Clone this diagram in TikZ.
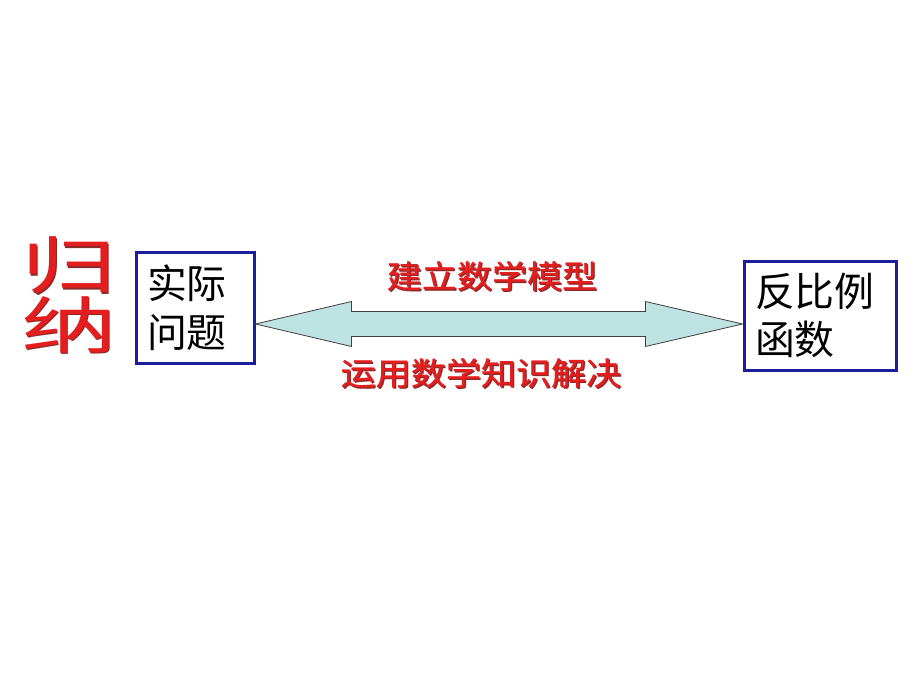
\documentclass[tikz,border=0pt]{standalone}
\usepackage{fontspec}
\usetikzlibrary{calc}
\newfontfamily\cjk{Noto Sans CJK SC}
\newfontfamily\cjkbold{Noto Sans CJK SC}[FakeBold=0.6]
\definecolor{kastenblau}{HTML}{1C1C9C}
\definecolor{rottext}{HTML}{E41E1E}
\definecolor{rotschatten}{HTML}{8A2A2A}
\definecolor{pfeilfarbe}{HTML}{BFE2E2}

\begin{document}
\begin{tikzpicture}[x=1bp, y=-1bp,
    kasten/.style={draw=kastenblau, line width=3bp, fill=white, inner xsep=11bp,
                   align=left, font=\cjk\fontsize{40}{49}\selectfont},
    rotschrift/.style={text=rottext, inner sep=0pt, font=\cjkbold\fontsize{32}{36}\selectfont, xscale=1.1},
    schatten/.style={rotschrift, text=rotschatten}]
    \useasboundingbox (0,0) rectangle (920,690);

    % links und rechts
    \node[kasten, text width=96bp, minimum height=111bp] (wenti) at (195,307.5) {实际\\问题};
    \node[kasten, text width=130bp, minimum height=109bp] (hanshu) at (820,315.5) {反比例\\函数};

    \node[schatten, align=center, font=\cjk\fontsize{62}{60}\selectfont, xscale=1.4] (guina-s) at (70.5,296.5) {归\\纳};
    \node[rotschrift, align=center, font=\cjk\fontsize{62}{60}\selectfont, xscale=1.4] (guina) at (69,295) {归\\纳};

    % Doppelpfeil
    \path (wenti.east) ++(0,16.5) coordinate (lt);
    \path (hanshu.west) ++(0,8.5) coordinate (rt);
    \draw[fill=pfeilfarbe, draw=black!75, line width=0.8bp]
        (lt) -- ($(lt)+(96,-22.5)$) -- ($(lt)+(96,-12.5)$) -- ($(rt)+(-97,-12.5)$)
        -- ($(rt)+(-97,-22.5)$) -- (rt) -- ($(rt)+(-97,22.5)$) -- ($(rt)+(-97,12.5)$)
        -- ($(lt)+(96,12.5)$) -- ($(lt)+(96,22.5)$) -- cycle;

    \node[schatten] (modell-s) at (493.2,277.2) {建立数学模型};
    \node[rotschrift] (modell) at (492,276) {建立数学模型};
    \node[schatten] (loesen-s) at (482.2,374.2) {运用数学知识解决};
    \node[rotschrift] (loesen) at (481,373) {运用数学知识解决};
\end{tikzpicture}
\end{document}
